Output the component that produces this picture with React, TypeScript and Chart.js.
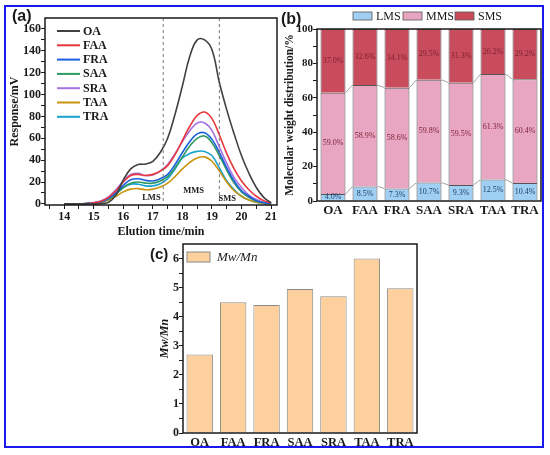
import { useEffect, useRef } from 'react'
import { Chart, registerables } from 'chart.js'
import type { ChartConfiguration, Plugin } from 'chart.js'

Chart.register(...registerables)

const serif = "'Liberation Serif', 'Times New Roman', serif"
const ink = '#1a1a1a'

// (a) GPC elution curves, read every 0.25 min
const elutionTime = [14, 14.25, 14.5, 14.75, 15, 15.25, 15.5, 15.75, 16, 16.25, 16.5, 16.75, 17, 17.25, 17.5, 17.75, 18, 18.25, 18.5, 18.75, 19, 19.25, 19.5, 19.75, 20, 20.25, 20.5, 20.75, 21]
const curveOA = [0, 0, 0, 0, 0, 0.3, 1.5, 8, 22, 32, 36, 36.5, 39, 47, 60, 82, 108, 135, 150, 150, 141, 111, 86, 64, 44, 28, 15, 6, 1]
const curveFAA = [0, 0, 0, 0.3, 1, 2.5, 6, 12, 20, 26, 27, 26, 27, 30, 35, 45, 58, 71, 81, 84, 78, 63, 46, 32, 21, 13, 7, 3, 1]
const curveFRA = [0, 0, 0, 0.3, 1, 2, 5, 10, 17, 22, 23, 21.5, 21, 23, 27, 36, 47, 57, 64, 65, 59, 47, 33, 21, 12, 7, 3, 1.2, 0.5]
const curveSAA = [0, 0, 0, 0.3, 1, 2, 4.5, 9, 15, 19, 20, 19, 19, 21, 25, 33, 43, 53, 60, 62, 56, 44, 31, 19, 11, 6, 2.5, 1, 0.3]
const curveSRA = [0, 0, 0, 0.3, 1.2, 3, 6.5, 13, 21, 27, 28, 26, 26.5, 30, 36, 46, 57, 67, 74, 74, 67, 52, 37, 24, 15, 8, 4, 1.5, 0.5]
const curveTAA = [0, 0, 0, 0.2, 0.8, 1.5, 3.5, 7, 11, 13.5, 14, 13, 13.5, 15.5, 19, 25, 32, 38, 42, 43, 39, 30, 20, 12, 7, 3.5, 1.5, 0.5, 0]
const curveTRA = [0, 0, 0, 0.3, 1, 2, 4.5, 9, 15, 18, 18, 16.5, 16.5, 18.5, 23, 32, 42, 46, 48, 48, 44, 33, 21, 13, 7, 3.5, 1.5, 0.5, 0]
const curveNames = ['OA', 'FAA', 'FRA', 'SAA', 'SRA', 'TAA', 'TRA']
const curveColors = ['#404040', '#e8383d', '#1a5fe0', '#2f9a5f', '#a672e0', '#c9940f', '#17a3cc']
const curveValues = [curveOA, curveFAA, curveFRA, curveSAA, curveSRA, curveTAA, curveTRA]
const xTicksA = [14, 15, 16, 17, 18, 19, 20, 21]
const xMinorA = [13.5, 14.5, 15.5, 16.5, 17.5, 18.5, 19.5, 20.5]
const yTicksA = [0, 20, 40, 60, 80, 100, 120, 140, 160]
const yMinorA = [10, 30, 50, 70, 90, 110, 130, 150]
const regionBounds = [17.35, 19.25]
const regionNames = ['LMS', 'MMS', 'SMS']
const regionLabelX = [16.95, 18.38, 19.52]
const regionLabelY = [6, 12, 4.5]

// (b) molecular weight distribution, %
const samples = ['OA', 'FAA', 'FRA', 'SAA', 'SRA', 'TAA', 'TRA']
const lmsShare = [4.0, 8.5, 7.3, 10.7, 9.3, 12.5, 10.4]
const mmsShare = [59.0, 58.9, 58.6, 59.8, 59.5, 61.3, 60.4]
const smsShare = [37.0, 32.6, 34.1, 29.5, 31.3, 26.2, 29.2]
const shareNames = ['LMS', 'MMS', 'SMS']
const shareColors = ['#9fcff2', '#e8a6c3', '#c94c5c']
const shareTextColors = ['#25406e', '#7d1d33', '#7d1d33']
const yTicksB = [0, 20, 40, 60, 80, 100]
const yMinorB = [10, 30, 50, 70, 90]

// (c) polydispersity
const mwMn = [2.7, 4.5, 4.4, 4.95, 4.7, 6.0, 4.98]
const yTicksC = [0, 1, 2, 3, 4, 5, 6]
const yMinorC = [0.5, 1.5, 2.5, 3.5, 4.5, 5.5]

const framePlugin: Plugin = {
  id: 'frame',
  afterDraw(chart) {
    const { ctx, chartArea: a } = chart
    ctx.save()
    ctx.strokeStyle = ink
    ctx.lineWidth = 1.5
    ctx.strokeRect(a.left, a.top, a.right - a.left, a.bottom - a.top)
    ctx.restore()
  },
}

const fixedWidth = (w: number) => (scale: any) => { scale.width = w }
const fixedHeight = (h: number) => (scale: any) => { scale.height = h }
const setTicks = (list: number[]) => (scale: any) => {
  scale.ticks = list.slice().sort((p, q) => p - q).map(value => ({ value }))
}
const tickGrid = { drawOnChartArea: false, drawTicks: true, tickLength: 4, color: ink, lineWidth: 1 }
const noGrid = { display: false, drawTicks: false, tickLength: 0 }

function elutionConfig(): ChartConfiguration {
  const regions: Plugin = {
    id: 'regions',
    afterDatasetsDraw(chart) {
      const { ctx, chartArea: a, scales } = chart
      ctx.save()
      ctx.strokeStyle = '#777'
      ctx.lineWidth = 1
      ctx.setLineDash([3, 3])
      regionBounds.forEach(b => {
        const x = scales.x.getPixelForValue(b)
        ctx.beginPath()
        ctx.moveTo(x, a.top)
        ctx.lineTo(x, a.bottom)
        ctx.stroke()
      })
      ctx.setLineDash([])
      ctx.fillStyle = ink
      ctx.font = `bold 8.5px ${serif}`
      ctx.textAlign = 'center'
      ctx.textBaseline = 'middle'
      regionNames.forEach((n, i) => {
        ctx.fillText(n, scales.x.getPixelForValue(regionLabelX[i]), scales.y.getPixelForValue(regionLabelY[i]))
      })
      // legend
      ctx.font = `bold 12px ${serif}`
      ctx.textAlign = 'left'
      chart.data.datasets.forEach((ds, i) => {
        const y = a.top + 13 + i * 14.3
        ctx.strokeStyle = ds.borderColor as string
        ctx.lineWidth = 2
        ctx.beginPath()
        ctx.moveTo(a.left + 12, y)
        ctx.lineTo(a.left + 35, y)
        ctx.stroke()
        ctx.fillStyle = ink
        ctx.fillText(ds.label as string, a.left + 38, y + 0.5)
      })
      ctx.restore()
    },
  }
  return {
    type: 'line',
    data: {
      datasets: curveNames.map((name, i) => ({
        label: name,
        data: elutionTime.map((t, j) => ({ x: t, y: curveValues[i][j] })),
        borderColor: curveColors[i],
        borderWidth: 1.6,
        pointRadius: 0,
        tension: 0.4,
        fill: false,
      })),
    },
    options: {
      responsive: false,
      animation: false,
      layout: { padding: { top: 13, right: 3, left: 0, bottom: 0 } },
      plugins: { legend: { display: false }, tooltip: { enabled: false } },
      scales: {
        x: {
          type: 'linear',
          min: 13.35,
          max: 21.2,
          afterFit: fixedHeight(40),
          afterBuildTicks: setTicks([...xTicksA, ...xMinorA]),
          grid: tickGrid,
          border: { display: false },
          ticks: {
            autoSkip: false,
            maxRotation: 0,
            padding: 1,
            color: ink,
            font: { family: serif, size: 12, weight: 'bold' },
            callback: v => (xTicksA.includes(Number(v)) ? String(v) : ''),
          },
          title: {
            display: true,
            text: 'Elution time/min',
            color: ink,
            font: { family: serif, size: 12, weight: 'bold' },
            padding: { top: 0, bottom: 6 },
          },
        },
        y: {
          min: -1,
          max: 170,
          afterFit: fixedWidth(40),
          afterBuildTicks: setTicks([...yTicksA, ...yMinorA]),
          grid: tickGrid,
          border: { display: false },
          ticks: {
            autoSkip: false,
            padding: 0,
            color: ink,
            font: { family: serif, size: 12, weight: 'bold' },
            callback: v => (yTicksA.includes(Number(v)) ? String(v) : ''),
          },
          title: {
            display: true,
            text: 'Response/mV',
            color: ink,
            font: { family: serif, size: 12, weight: 'bold' },
            padding: { top: 3, bottom: 0 },
          },
        },
      },
    },
    plugins: [regions, framePlugin],
  }
}

function distributionConfig(): ChartConfiguration {
  const shares = [lmsShare, mmsShare, smsShare]
  const extras: Plugin = {
    id: 'distExtras',
    afterDatasetsDraw(chart) {
      const { ctx } = chart
      ctx.save()
      // connectors between neighbouring stacks
      ctx.strokeStyle = '#8a8a8a'
      ctx.lineWidth = 0.8
      for (let d = 0; d < shares.length - 1; d++) {
        const els = chart.getDatasetMeta(d).data as any[]
        for (let i = 0; i < els.length - 1; i++) {
          ctx.beginPath()
          ctx.moveTo(els[i].x + els[i].width / 2, els[i].y)
          ctx.lineTo(els[i + 1].x - els[i + 1].width / 2, els[i + 1].y)
          ctx.stroke()
        }
      }
      // segment values
      ctx.font = `8px ${serif}`
      ctx.textAlign = 'center'
      ctx.textBaseline = 'middle'
      shares.forEach((vals, d) => {
        const els = chart.getDatasetMeta(d).data as any[]
        ctx.fillStyle = shareTextColors[d]
        els.forEach((el, i) => ctx.fillText(`${vals[i].toFixed(1)}%`, el.x, (el.y + el.base) / 2))
      })
      // legend
      const boxX = [75, 125, 177]
      ctx.font = `12px ${serif}`
      ctx.textAlign = 'left'
      shareNames.forEach((n, i) => {
        ctx.fillStyle = shareColors[i]
        ctx.fillRect(boxX[i], 7, 19, 8)
        ctx.strokeStyle = '#555'
        ctx.lineWidth = 0.8
        ctx.strokeRect(boxX[i], 7, 19, 8)
        ctx.fillStyle = ink
        ctx.fillText(n, boxX[i] + 23, 11.5)
      })
      ctx.restore()
    },
  }
  return {
    type: 'bar',
    data: {
      labels: samples,
      datasets: shares.map((vals, d) => ({
        label: shareNames[d],
        data: vals,
        backgroundColor: shareColors[d],
        borderColor: '#555',
        borderWidth: 1,
        barPercentage: 0.78,
        categoryPercentage: 1,
      })),
    },
    options: {
      responsive: false,
      animation: false,
      layout: { padding: { top: 24, right: 5, left: 0, bottom: 0 } },
      plugins: { legend: { display: false }, tooltip: { enabled: false } },
      scales: {
        x: {
          stacked: true,
          afterFit: fixedHeight(21),
          grid: noGrid,
          border: { display: false },
          ticks: { autoSkip: false, maxRotation: 0, minRotation: 0, padding: 2, color: ink, font: { family: serif, size: 13, weight: 'bold' } },
        },
        y: {
          stacked: true,
          min: 0,
          max: 100,
          afterFit: fixedWidth(39),
          afterBuildTicks: setTicks([...yTicksB, ...yMinorB]),
          grid: tickGrid,
          border: { display: false },
          ticks: {
            autoSkip: false,
            padding: 0,
            color: ink,
            font: { family: serif, size: 11, weight: 'bold' },
            callback: v => (yTicksB.includes(Number(v)) ? String(v) : ''),
          },
          title: {
            display: true,
            text: 'Molecular weight distribution/%',
            color: ink,
            font: { family: serif, size: 11.5, weight: 'bold' },
            padding: { top: 5, bottom: 0 },
          },
        },
      },
    },
    plugins: [extras, framePlugin],
  }
}

function dispersityConfig(): ChartConfiguration {
  const key: Plugin = {
    id: 'mwKey',
    afterDatasetsDraw(chart) {
      const { ctx } = chart
      const ds = chart.data.datasets[0]
      ctx.save()
      ctx.fillStyle = ds.backgroundColor as string
      ctx.fillRect(37, 17, 23, 10)
      ctx.strokeStyle = '#8a8a8a'
      ctx.lineWidth = 1
      ctx.strokeRect(37, 17, 23, 10)
      ctx.fillStyle = ink
      ctx.font = `italic 13px ${serif}`
      ctx.textBaseline = 'middle'
      ctx.fillText(ds.label as string, 67, 22.5)
      ctx.restore()
    },
  }
  return {
    type: 'bar',
    data: {
      labels: samples,
      datasets: [{
        label: 'Mw/Mn',
        data: mwMn,
        backgroundColor: '#fdd09d',
        borderColor: '#8a8a8a',
        borderWidth: 1,
        barPercentage: 0.79,
        categoryPercentage: 1,
      }],
    },
    options: {
      responsive: false,
      animation: false,
      layout: { padding: { top: 9, right: 5, left: 0, bottom: 0 } },
      plugins: { legend: { display: false }, tooltip: { enabled: false } },
      scales: {
        x: {
          afterFit: fixedHeight(22),
          grid: noGrid,
          border: { display: false },
          ticks: { autoSkip: false, maxRotation: 0, minRotation: 0, padding: 2, color: ink, font: { family: serif, size: 12.5, weight: 'bold' } },
        },
        y: {
          min: 0,
          max: 6.5,
          afterFit: fixedWidth(33),
          afterBuildTicks: setTicks([...yTicksC, ...yMinorC]),
          grid: tickGrid,
          border: { display: false },
          ticks: {
            autoSkip: false,
            padding: 0,
            color: ink,
            font: { family: serif, size: 12, weight: 'bold' },
            callback: v => (yTicksC.includes(Number(v)) ? String(v) : ''),
          },
          title: {
            display: true,
            text: 'Mw/Mn',
            color: ink,
            font: { family: serif, size: 12, weight: 'bold', style: 'italic' },
            padding: { top: 8, bottom: 0 },
          },
        },
      },
    },
    plugins: [key, framePlugin],
  }
}

function Panel({ make, left, top, width, height }: { make: () => ChartConfiguration; left: number; top: number; width: number; height: number }) {
  const ref = useRef<HTMLCanvasElement>(null)
  useEffect(() => {
    if (!ref.current) return
    const chart = new Chart(ref.current, make())
    return () => chart.destroy()
  }, [make])
  return <canvas ref={ref} width={width} height={height} style={{ position: 'absolute', left, top, width, height }} />
}

const tag = (left: number, top: number, size: number): React.CSSProperties => ({
  position: 'absolute', left, top, fontFamily: "'Liberation Sans', Arial, sans-serif", fontWeight: 'bold', fontSize: size, lineHeight: `${size}px`, color: ink,
})

export default function App() {
  return (
    <div style={{ position: 'absolute', left: 0, top: 0, width: 550, height: 455, background: '#fff', overflow: 'hidden' }}>
      <Panel make={elutionConfig} left={5} top={5} width={275} height={240} />
      <Panel make={distributionConfig} left={278} top={5} width={268} height={217} />
      <Panel make={dispersityConfig} left={150} top={235} width={272} height={220} />
      <div style={tag(12, 8, 16)}>(a)</div>
      <div style={tag(281, 11, 16)}>(b)</div>
      <div style={tag(150, 246, 15)}>(c)</div>
      <div style={{ position: 'absolute', left: 4, top: 5, width: 540, height: 443, border: '2px solid #1a1af0', boxSizing: 'border-box', pointerEvents: 'none' }} />
    </div>
  )
}
